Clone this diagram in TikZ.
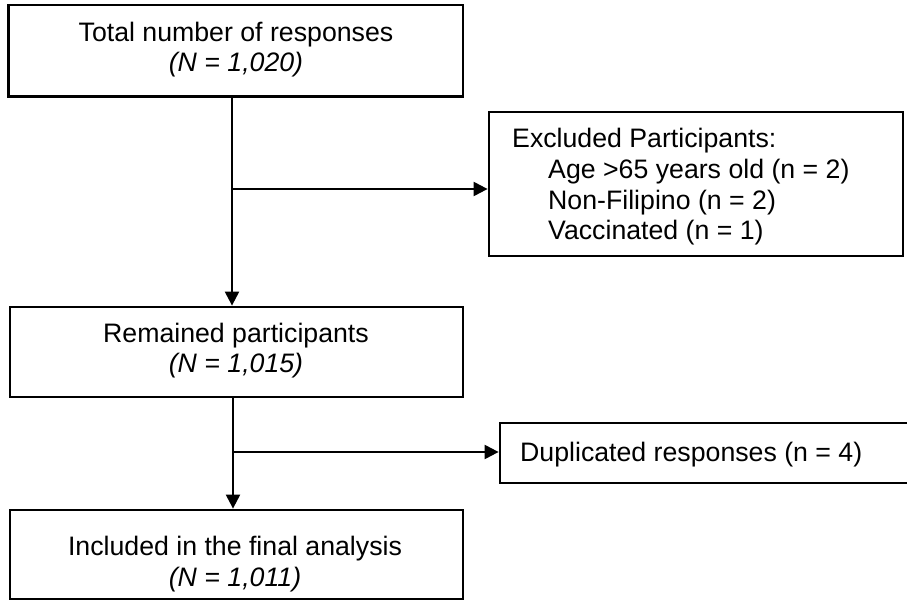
\documentclass[tikz,border=0pt]{standalone}
\usepackage{fontspec}
\setmainfont{Liberation Sans}
\usetikzlibrary{arrows.meta,calc}
\begin{document}
\begin{tikzpicture}[x=1pt,y=-1pt,
  boxst/.style={draw, line width=2.8pt, inner sep=0pt, rectangle},
  txt/.style={inner sep=0pt, font=\fontsize{26.7}{30}\selectfont},
  arr/.style={line width=2.2pt, -{Triangle[length=14pt,width=14pt]}}]
\clip (0,0) rectangle (907,601);
% boxes
\node[boxst, minimum width=454.5pt, minimum height=91.5pt] (total) at (235.75,50.75) {};
\node[boxst, minimum width=414pt, minimum height=144pt] (excl) at (696,184) {};
\node[boxst, minimum width=453pt, minimum height=90pt] (rem) at (236.5,352) {};
\node[boxst, minimum width=414pt, minimum height=60pt] (dup) at (707,453) {};
\node[boxst, minimum width=453pt, minimum height=89pt] (final) at (236.5,554.5) {};
% texts
\node[txt, anchor=base] (t1a) at (236,42) {Total number of responses};
\node[txt, anchor=base] (t1b) at (236,72) {\textit{(N = 1,020)}};
\node[txt, anchor=base west] (e0) at (512,148) {Excluded Participants:};
\node[txt, anchor=base west] (e1) at (548,179) {Age >65 years old (n = 2)};
\node[txt, anchor=base west] (e2) at (548,210) {Non-Filipino (n = 2)};
\node[txt, anchor=base west] (e3) at (548,240) {Vaccinated (n = 1)};
\node[txt, anchor=base] (r1) at (236,342) {Remained participants};
\node[txt, anchor=base] (r2) at (236,372) {\textit{(N = 1,015)}};
\node[txt, anchor=base west] (d1) at (520,461) {Duplicated responses (n = 4)};
\node[txt, anchor=base] (f1) at (235,555) {Included in the final analysis};
\node[txt, anchor=base] (f2) at (235,586) {\textit{(N = 1,011)}};
% connectors
\coordinate (j1) at (232,189);
\coordinate (j2) at (233,452);
\draw[arr] (j1 |- total.south) -- (j1 |- rem.north);
\draw[arr] (j1) -- (j1 -| excl.west);
\draw[arr] (j2 |- rem.south) -- (j2 |- final.north);
\draw[arr] (j2) -- (j2 -| dup.west);
\end{tikzpicture}
\end{document}
